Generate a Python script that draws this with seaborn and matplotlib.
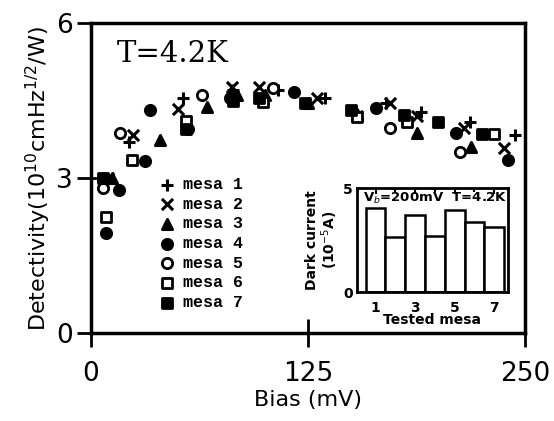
import numpy as np
import pandas as pd
import matplotlib
matplotlib.use('Agg')
import matplotlib.pyplot as plt
import seaborn as sns

# detectivity (1e10 cm Hz^1/2 / W) vs bias (mV), per mesa
bias_1 = [8, 22, 53, 82, 108, 135, 152, 170, 190, 218, 244]
det_1 = [3.0, 3.7, 4.56, 4.7, 4.7, 4.56, 4.25, 4.45, 4.27, 4.08, 3.83]
bias_2 = [10, 24, 50, 81, 97, 130, 153, 172, 188, 215, 238]
det_2 = [3.0, 3.83, 4.33, 4.76, 4.76, 4.55, 4.2, 4.45, 4.2, 3.97, 3.58]
bias_3 = [12, 40, 67, 84, 100, 125, 153, 188, 219]
det_3 = [3.0, 3.73, 4.37, 4.6, 4.6, 4.45, 4.25, 3.87, 3.6]
bias_4 = [8.5, 16, 31, 34, 56, 80, 117, 164, 210, 240]
det_4 = [1.93, 2.77, 3.33, 4.31, 3.95, 4.55, 4.66, 4.35, 3.87, 3.35]
bias_5 = [7, 16.5, 64, 105, 172, 212.5]
det_5 = [2.8, 3.87, 4.6, 4.74, 3.97, 3.5]
bias_6 = [8.5, 23.6, 55, 99, 153, 182, 232]
det_6 = [2.24, 3.35, 4.1, 4.47, 4.18, 4.08, 3.85]
bias_7 = [7, 55, 82, 97, 123, 150, 180, 200, 225]
det_7 = [3.0, 3.95, 4.5, 4.55, 4.45, 4.31, 4.22, 4.08, 3.85]

# inset: dark current (1e-5 A) at Vb = 200 mV
tested_mesa = [1, 2, 3, 4, 5, 6, 7]
dark_current = [4.04, 2.64, 3.7, 2.7, 3.94, 3.37, 3.13]

series = {
    'mesa 1': (bias_1, det_1, '+', True),
    'mesa 2': (bias_2, det_2, 'x', True),
    'mesa 3': (bias_3, det_3, '^', True),
    'mesa 4': (bias_4, det_4, 'o', True),
    'mesa 5': (bias_5, det_5, 'o', False),
    'mesa 6': (bias_6, det_6, 's', False),
    'mesa 7': (bias_7, det_7, 's', True),
}

sns.set_theme(style='white')
plt.rcParams['font.family'] = ['DejaVu Sans']
plt.rcParams.update({'text.color': 'black', 'axes.labelcolor': 'black',
                     'xtick.color': 'black', 'ytick.color': 'black'})

fig = plt.figure(figsize=(5.54, 4.21), dpi=100)
ax = fig.add_axes([0.164, 0.209, 0.784, 0.736])

for name, (bx, dy, mk, filled) in series.items():
    df = pd.DataFrame({'bias': bx, 'det': dy})
    if mk in ('+', 'x'):
        sns.scatterplot(data=df, x='bias', y='det', marker=mk, color='black',
                        s=65, linewidth=2.2, label=name, ax=ax)
    else:
        sns.scatterplot(data=df, x='bias', y='det', marker=mk,
                        facecolor='black' if filled else 'white',
                        edgecolor='black', s=55, linewidth=2,
                        label=name, ax=ax)

ax.set_xlim(0, 250)
ax.set_ylim(0, 6)
ax.set_xticks([0, 125, 250])
ax.set_yticks([0, 3, 6])
ax.tick_params(direction='inout', length=20, width=2, labelsize=19,
               bottom=True, left=True)
ax.tick_params(axis='x', pad=10)
ax.tick_params(axis='y', pad=3)
for sp in ax.spines.values():
    sp.set_linewidth(2.5)
    sp.set_color('black')
ax.set_xlabel('Bias (mV)', fontsize=16, labelpad=2)
ax.set_ylabel('Detectivity(10$^{10}$cmHz$^{1/2}$/W)', fontsize=16, labelpad=2)

ax.text(0.06, 0.9, 'T=4.2K', transform=ax.transAxes, fontsize=21,
        family='DejaVu Serif', va='center', ha='left')

leg = ax.legend(loc='upper left', bbox_to_anchor=(0.14, 0.525), frameon=False,
                labelspacing=0.28, handletextpad=0.5, handlelength=1.0,
                borderaxespad=0,
                prop={'family': 'Liberation Mono', 'weight': 'bold', 'size': 12})

# inset bar chart
ins = fig.add_axes([0.644, 0.306, 0.273, 0.247])
inset_df = pd.DataFrame({'mesa': tested_mesa, 'current': dark_current})
sns.barplot(data=inset_df, x='mesa', y='current', native_scale=True, width=1.0,
            color='white', edgecolor='black', linewidth=1.8, ax=ins)
ins.set_xlim(0.05, 7.7)
ins.set_ylim(0, 5)
ins.set_xticks([1, 3, 5, 7])
ins.set_xticks([2, 4, 6], minor=True)
ins.set_yticks([0, 5])
ins.tick_params(direction='in', length=4, width=1.5, labelsize=10, pad=6,
                top=True, bottom=True, left=True)
ins.tick_params(axis='y', pad=3, length=0)
ins.tick_params(which='minor', direction='in', length=3, width=1.5,
                top=True, bottom=True)
for lab in ins.get_xticklabels() + ins.get_yticklabels():
    lab.set_fontweight('bold')
for sp in ins.spines.values():
    sp.set_linewidth(2)
    sp.set_color('black')
ins.set_xlabel('Tested mesa', fontsize=10, fontweight='bold', labelpad=-1)
ins.set_ylabel('Dark current\n(10$^{-5}$A)', fontsize=10, fontweight='bold',
               labelpad=2, linespacing=1.0)
ins.text(0.04, 0.97, 'V$_b$=200mV  T=4.2K', transform=ins.transAxes,
         fontsize=9.5, fontweight='bold', va='top', ha='left')

fig.savefig('out.png', dpi=100)
plt.close(fig)
